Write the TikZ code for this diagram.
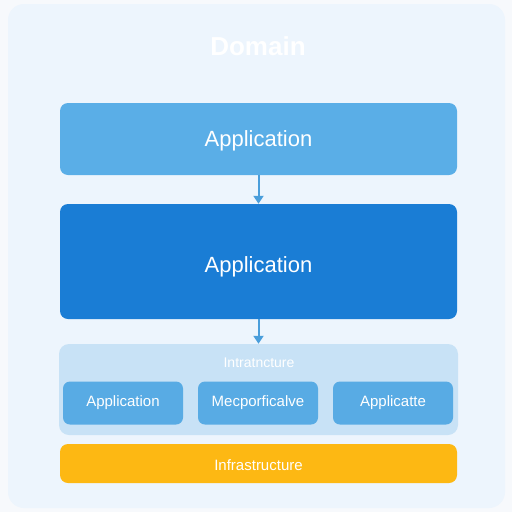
\documentclass[tikz,border=0pt]{standalone}
\usepackage{fontspec}
\setmainfont{Liberation Sans}
\usepackage{tikz}
\usetikzlibrary{arrows.meta}

\definecolor{pagebg}{HTML}{F7F9FC}
\definecolor{cardbg}{HTML}{EDF5FD}
\definecolor{lightblue}{HTML}{5AAEE7}
\definecolor{darkblue}{HTML}{1A7DD5}
\definecolor{arrowblue}{HTML}{4A9EDB}
\definecolor{groupblue}{HTML}{C8E2F6}
\definecolor{tileblue}{HTML}{58ABE4}
\definecolor{amber}{HTML}{FDB813}

\tikzset{
    layer/.style={rounded corners=8pt, minimum width=397pt, text=white},
    tile/.style={rounded corners=7pt, fill=tileblue, minimum width=120pt,
        minimum height=43pt, text=white, font=\fontsize{15}{18}\selectfont},
    flow/.style={arrowblue, line width=2pt, -{Triangle[length=8pt, width=10pt]}}
}

\begin{document}
\begin{tikzpicture}[x=1pt, y=-1pt]
    \useasboundingbox (0, 0) rectangle (512, 512);
    \fill[pagebg] (0, 0) rectangle (512, 512);

    % Card
    \fill[cardbg, rounded corners=16pt] (8, 4) rectangle (505, 508);
    \node[text=white, font=\fontsize{26}{30}\selectfont\bfseries] (domain) at (258, 46) {Domain};

    % Upper layer
    \node[layer, fill=lightblue, minimum height=72pt, font=\fontsize{22}{26}\selectfont]
        (app) at (258.5, 139) {};
    \node[text=white, font=\fontsize{22}{26}\selectfont] (applabel) at (258.5, 141) {Application};

    % Middle layer
    \node[layer, fill=darkblue, minimum height=115pt, font=\fontsize{22}{26}\selectfont]
        (core) at (258.5, 261.5) {};
    \node[text=white, font=\fontsize{22}{26}\selectfont] (corelabel) at (258.5, 267) {Application};

    % Group
    \node[rounded corners=10pt, fill=groupblue, minimum width=399pt, minimum height=91pt]
        (group) at (258.5, 389.5) {};
    \node[text=white, font=\fontsize{14}{17}\selectfont] (grouplabel) at (259, 363) {Intratncture};
    \node[tile] (tileA) at (123, 403) {Application};
    \node[tile] (tileB) at (258, 403) {Mecporficalve};
    \node[tile] (tileC) at (393, 403) {Applicatte};

    % Bottom layer
    \node[layer, fill=amber, minimum height=39pt, font=\fontsize{15}{18}\selectfont]
        (infra) at (258.5, 463.5) {};
    \node[text=white, font=\fontsize{15}{18}\selectfont] (infralabel) at (258.5, 465) {Infrastructure};

    % Arrows
    \draw[flow] (app.south) -- (core.north);
    \draw[flow] (core.south) -- (group.north);
\end{tikzpicture}
\end{document}
